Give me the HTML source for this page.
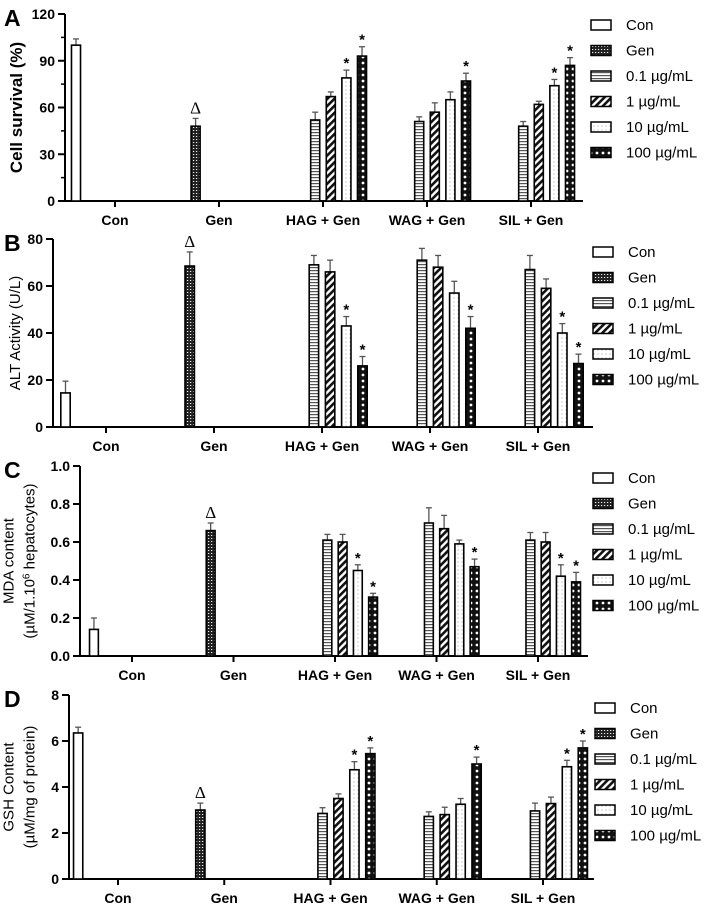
<!DOCTYPE html>
<html><head><meta charset="utf-8"><style>
html,body{margin:0;padding:0;background:#fff;}
svg{display:block;font-family:"Liberation Sans",Arial,sans-serif;}
</style></head><body>
<svg id="fig" width="714" height="912" viewBox="0 0 714 912" xmlns="http://www.w3.org/2000/svg">
<defs>
<pattern id="p-gen" width="3" height="3" patternUnits="userSpaceOnUse"><rect width="3" height="3" fill="#222"/><rect x="1" y="1" width="1.2" height="1" fill="#eee"/></pattern>
<pattern id="p-01" width="4" height="3" patternUnits="userSpaceOnUse"><rect width="4" height="3" fill="#fff"/><rect y="0" width="4" height="1.2" fill="#555"/></pattern>
<pattern id="p-1" width="5" height="5" patternUnits="userSpaceOnUse" patternTransform="rotate(45)"><rect width="5" height="5" fill="#fff"/><rect width="2.6" height="5" fill="#111"/></pattern>
<pattern id="p-10" width="4" height="4" patternUnits="userSpaceOnUse"><rect width="4" height="4" fill="#fff"/><rect x="1.5" y="1.5" width="1" height="1" fill="#999"/></pattern>
<pattern id="p-100" width="6" height="6" patternUnits="userSpaceOnUse"><rect width="6" height="6" fill="#111"/><circle cx="3" cy="3" r="1.4" fill="#fff"/></pattern>
</defs>
</svg>
<script>
const categories = ["Con","Gen","HAG + Gen","WAG + Gen","SIL + Gen"];
const seriesNames = ["Con","Gen","0.1 µg/mL","1 µg/mL","10 µg/mL","100 µg/mL"];
const valuesA = [100, 48, 52, 67, 79, 93, 51, 57, 65, 77, 48, 62, 74, 87];
const errorsA = [4, 5, 5, 3, 5, 6, 3, 6, 5, 5, 3, 2, 4, 5];
const valuesB = [14.5, 68.5, 69, 66, 43, 26, 71, 68, 57, 42, 67, 59, 40, 27];
const errorsB = [5, 6, 4, 5, 4, 4, 5, 5, 5, 5, 6, 4, 4, 4];
const valuesC = [0.14, 0.66, 0.61, 0.60, 0.45, 0.31, 0.70, 0.67, 0.59, 0.47, 0.61, 0.60, 0.42, 0.39];
const errorsC = [0.06, 0.04, 0.03, 0.04, 0.03, 0.02, 0.08, 0.07, 0.02, 0.04, 0.04, 0.05, 0.06, 0.05];
const valuesD = [6.35, 3.0, 2.85, 3.5, 4.75, 5.45, 2.72, 2.8, 3.25, 5.0, 2.96, 3.28, 4.88, 5.7];
const errorsD = [0.25, 0.3, 0.25, 0.2, 0.35, 0.25, 0.2, 0.32, 0.25, 0.3, 0.34, 0.28, 0.28, 0.3];
const starsIdx = [4, 5, 9, 12, 13];
const ticksA = [0, 30, 60, 90, 120];
const ticksB = [0, 20, 40, 60, 80];
const ticksC = ["0.0","0.2","0.4","0.6","0.8","1.0"];
const ticksD = [0, 2, 4, 6, 8];

const NS = "http://www.w3.org/2000/svg";
const svg = document.getElementById("fig");
function el(tag, attrs, parent) {
  const e = document.createElementNS(NS, tag);
  for (const k in attrs) e.setAttribute(k, attrs[k]);
  (parent || svg).appendChild(e);
  return e;
}
const fills = ["#fff","url(#p-gen)","url(#p-01)","url(#p-1)","url(#p-10)","url(#p-100)"];

const panels = [
  {letter:"A", ax:65, top:14, base:201, con:115, sil:531, end:583, max:120, ticks:ticksA, minor:true, vals:valuesA, errs:errorsA, ylab:["Cell survival (%)"], yls:17, ylx:22, bold:true, legY:25, legX:591},
  {letter:"B", ax:53, top:239, base:427, con:106, sil:538, end:593, max:80, ticks:ticksB, minor:false, vals:valuesB, errs:errorsB, ylab:["ALT Activity (U/L)"], yls:15, ylx:20, bold:false, legY:252, legX:593},
  {letter:"C", ax:80, top:466, base:656, con:132, sil:538, end:588, max:1, ticks:ticksC, minor:false, vals:valuesC, errs:errorsC, ylab:["MDA content","(µM/1.10<tspan baseline-shift='super' font-size='10'>6</tspan> hepatocytes)"], yls:15, ylx:24, bold:false, legY:478, legX:593},
  {letter:"D", ax:69, top:695, base:879, con:118, sil:543, end:594, max:8, ticks:ticksD, minor:false, vals:valuesD, errs:errorsD, ylab:["GSH Content","(µM/mg of protein)"], yls:15, ylx:24, bold:false, legY:708, legX:595}
];

panels.forEach(function(p){
  const g = el("g", {});
  
  
  const sp = (p.sil - p.con) / 4;
  const slot = sp * 0.15, bw = slot * 0.58;
  const y = v => p.base - (v / p.max) * (p.base - p.top);
  const L = el("text", {x:4, y:p.top + 12, "font-size":23, "font-weight":"bold"}, g);
  L.textContent = p.letter;
  
  
  const ya = el("line", {x1:p.ax, y1:p.top, x2:p.ax, y2:p.base, stroke:"#000", "stroke-width":2}, g);
  
  
  const xa = el("line", {x1:p.ax - 7, y1:p.base, x2:p.end, y2:p.base, stroke:"#000", "stroke-width":2}, g);
  
  
  p.ticks.forEach(function(t){
    const v = parseFloat(t), yy = y(v);
    el("line", {x1:p.ax - 7, y1:yy, x2:p.ax, y2:yy, stroke:"#000", "stroke-width":2}, g);
    const tl = el("text", {x:p.ax - 10, y:yy + 5, "font-size":14, "font-weight":"bold", "text-anchor":"end"}, g);
    tl.textContent = t;
    
    
  });
  if (p.minor) {
    for (let i = 0; i < p.ticks.length - 1; i++) {
      const yy = y((p.ticks[i] + p.ticks[i+1]) / 2);
      el("line", {x1:p.ax - 4, y1:yy, x2:p.ax, y2:yy, stroke:"#000", "stroke-width":1.5}, g);
    }
  }
  const cy = (p.top + p.base) / 2;
  p.ylab.forEach(function(line, i){
    const n = p.ylab.length;
    const xx = p.ylx + (i - (n - 1) / 2) * 21;
    const t = el("text", {x:0, y:0, "font-size":p.yls, "font-weight":p.bold ? "bold" : "normal", "text-anchor":"middle", transform:"translate(" + xx + "," + cy + ") rotate(-90)"}, g);
    t.innerHTML = line;
    
    
  });
  categories.forEach(function(c, i){
    const cx = p.con + i * sp;
    el("line", {x1:cx, y1:p.base, x2:cx, y2:p.base + 6, stroke:"#000", "stroke-width":2}, g);
    const t = el("text", {x:cx, y:p.base + 24, "font-size":14, "font-weight":"bold", "text-anchor":"middle"}, g);
    t.textContent = c;
    
    
  });
  p.vals.forEach(function(v, k){
    let cat, s;
    if (k === 0) { cat = 0; s = 0; } else if (k === 1) { cat = 1; s = 1; } else { cat = 2 + Math.floor((k - 2) / 4); s = 2 + (k - 2) % 4; }
    const cx = p.con + cat * sp + (s - 2.5) * slot;
    const top = y(v), eTop = y(v + p.errs[k]);
    el("line", {x1:cx, y1:eTop, x2:cx, y2:top, stroke:"#555", "stroke-width":1.3}, g);
    el("line", {x1:cx - 3, y1:eTop, x2:cx + 3, y2:eTop, stroke:"#555", "stroke-width":1.3}, g);
    const r = el("rect", {x:cx - bw / 2, y:top, width:bw, height:p.base - top, fill:fills[s], stroke:"#000", "stroke-width":1.6}, g);
    
    
    if (starsIdx.indexOf(k) >= 0) {
      const st = el("text", {x:cx, y:eTop - 2, "font-size":15, "font-weight":"bold", "text-anchor":"middle"}, g);
      st.textContent = "*";
      
      
    }
    if (k === 1) {
      const d = el("text", {x:cx, y:eTop - 5, "font-size":17, "text-anchor":"middle", "font-family":"Liberation Serif, serif"}, g);
      d.textContent = "Δ";
      
      
    }
  });
  seriesNames.forEach(function(n, i){
    const ly = p.legY + i * 25.5;
    const sw = el("rect", {x:p.legX, y:ly - 5, width:20, height:10, fill:fills[i], stroke:"#000", "stroke-width":1.5}, g);
    
    
    const t = el("text", {x:p.legX + 35, y:ly + 5, "font-size":15}, g);
    t.textContent = n;
    
    
  });
});
</script>
</body></html>
